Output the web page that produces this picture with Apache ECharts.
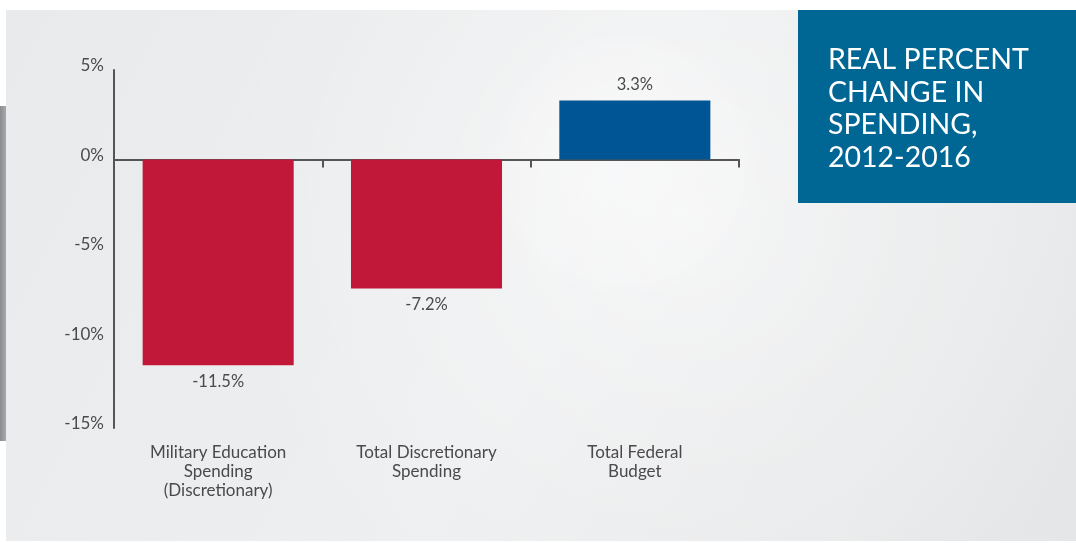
<!DOCTYPE html>
<html>
<head>
<meta charset="utf-8">
<style>
  html, body { margin: 0; padding: 0; background: #ffffff; }
  #chart { width: 1076px; height: 543px; }
</style>
<script src="https://cdn.jsdelivr.net/npm/echarts@6/dist/echarts.min.js"></script>
</head>
<body>
<div id="chart"></div>
<script>
// Spending categories and their real percent change, 2012-2016
const categories = [
  'Military Education\nSpending\n(Discretionary)',
  'Total Discretionary\nSpending',
  'Total Federal\nBudget'
];
const changeValues = [-11.5, -7.2, 3.3];
const barColors = ['#c1183a', '#c1183a', '#005594'];
const yTicks = { min: -15, max: 5, step: 5 };
const titleLines = ['REAL PERCENT', 'CHANGE IN', 'SPENDING,', '2012-2016'];

const FONT = 'Lato, "Noto Sans", sans-serif';
const TEXT = '#4a4a4c';

const chart = echarts.init(document.getElementById('chart'), null, { renderer: 'canvas' });

const seriesData = changeValues.map((v, i) => ({
  value: v,
  itemStyle: { color: barColors[i] },
  label: { position: v >= 0 ? 'top' : 'bottom', distance: v >= 0 ? 7 : 8 }
}));

const option = {
  animation: false,
  backgroundColor: '#ffffff',
  graphic: [
    // panel background
    {
      type: 'rect', z: -10, silent: true,
      shape: { x: 6, y: 10, width: 1070, height: 531 },
      style: {
        fill: new echarts.graphic.LinearGradient(0, 0, 1, 1, [
          { offset: 0, color: '#e9eaeb' },
          { offset: 0.5, color: '#eeeff0' },
          { offset: 1, color: '#e5e6e7' }
        ])
      }
    },
    // soft glow behind the chart area
    {
      type: 'circle', z: -9, silent: true,
      shape: { cx: 680, cy: 210, r: 470 },
      style: {
        fill: new echarts.graphic.RadialGradient(0.5, 0.5, 0.5, [
          { offset: 0, color: 'rgba(255,255,255,0.45)' },
          { offset: 0.5, color: 'rgba(255,255,255,0.2)' },
          { offset: 1, color: 'rgba(255,255,255,0)' }
        ])
      }
    },
    {
      type: 'circle', z: -8, silent: true,
      shape: { cx: 625, cy: 165, r: 135 },
      style: {
        fill: new echarts.graphic.RadialGradient(0.5, 0.5, 0.5, [
          { offset: 0, color: 'rgba(255,255,255,0.3)' },
          { offset: 0.85, color: 'rgba(255,255,255,0.2)' },
          { offset: 1, color: 'rgba(255,255,255,0)' }
        ])
      }
    },
    // grey edge strip at the left
    {
      type: 'rect', z: -7, silent: true,
      shape: { x: 0, y: 106, width: 6, height: 335 },
      style: {
        fill: new echarts.graphic.LinearGradient(0, 0, 1, 0, [
          { offset: 0, color: '#8c8c90' },
          { offset: 1, color: '#a9a9ad' }
        ])
      }
    },
    // title box
    {
      type: 'rect', z: 5, silent: true,
      shape: { x: 798, y: 10, width: 278, height: 193 },
      style: { fill: '#006795' }
    },
    {
      type: 'text', z: 6, silent: true,
      left: 828, top: 44,
      style: {
        text: titleLines.join('\n'),
        fill: '#ffffff',
        font: '400 28.5px ' + FONT,
        lineHeight: 32.5
      }
    }
  ],
  grid: { left: 114, right: 337, top: 70, bottom: 115, containLabel: false },
  xAxis: [
    {
      type: 'category',
      data: categories,
      axisLine: { onZero: true, lineStyle: { color: '#555557', width: 2 } },
      axisTick: { show: true, length: 8, lineStyle: { color: '#555557', width: 2 } },
      axisLabel: { show: false },
      splitLine: { show: false }
    },
    {
      type: 'category',
      data: categories,
      position: 'bottom',
      axisLine: { show: false, onZero: false },
      axisTick: { show: false },
      axisLabel: {
        margin: 15,
        color: TEXT,
        fontFamily: FONT,
        fontSize: 17,
        lineHeight: 19
      }
    }
  ],
  yAxis: {
    type: 'value',
    min: yTicks.min,
    max: yTicks.max,
    interval: yTicks.step,
    axisLine: { show: true, lineStyle: { color: '#555557', width: 2 } },
    axisTick: { show: false },
    splitLine: { show: false },
    axisLabel: {
      margin: 10,
      color: TEXT,
      fontFamily: FONT,
      fontSize: 17,
      formatter: v => '{t|' + v + '%}',
      rich: { t: { fontFamily: FONT, fontSize: 17, color: TEXT, padding: [0, 0, 8, 0] } }
    }
  },
  series: [
    {
      type: 'bar',
      xAxisIndex: 0,
      data: seriesData,
      barWidth: '72.5%',
      label: {
        show: true,
        color: TEXT,
        fontFamily: FONT,
        fontSize: 16.5,
        formatter: p => p.value + '%'
      }
    }
  ]
};

chart.setOption(option);
</script>
</body>
</html>
